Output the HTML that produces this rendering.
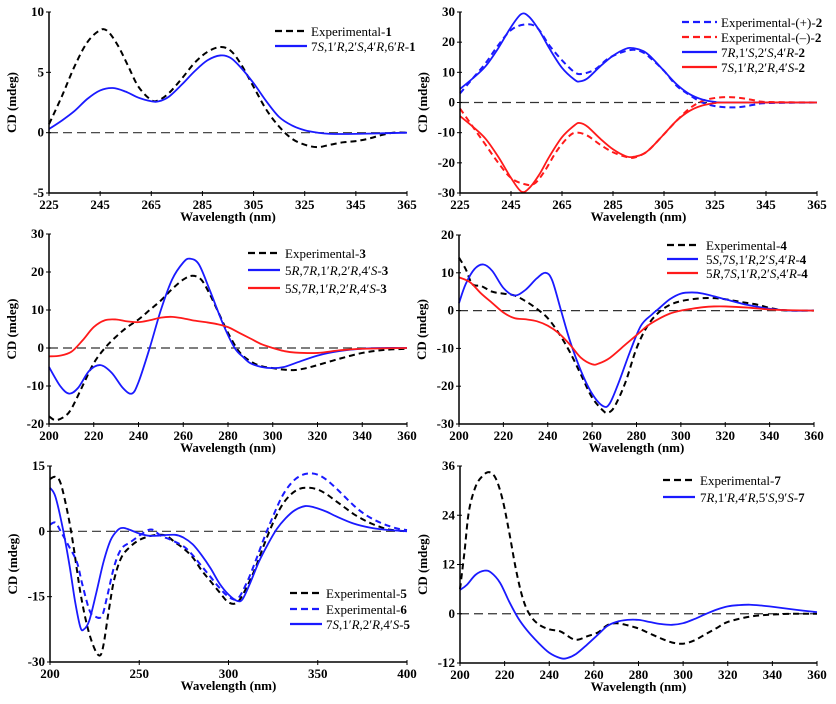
<!DOCTYPE html>
<html><head><meta charset="utf-8">
<style>
html,body{margin:0;padding:0;background:#fff;}
svg{display:block;}
text{font-family:"Liberation Serif","DejaVu Serif",serif;fill:#000;}
.tick{font-size:13px;font-weight:bold;}
.axt{font-size:13px;font-weight:bold;}
.leg{font-size:13px;}
</style></head>
<body>
<svg id="fig" width="836" height="704" viewBox="0 0 836 704" xmlns="http://www.w3.org/2000/svg"></svg>
<script>
// ---------- Panel 1 ----------
const p1_exp_wl=[225,230,235,240,245,248,252,256,260,265,268,272,277,282,287,292,296,300,305,310,315,320,325,330,335,340,345,350,355,360,365];
const p1_exp_cd=[0.7,3,5.5,7.5,8.5,8.4,7.2,5.5,3.8,2.7,2.7,3.3,4.5,5.8,6.7,7.1,6.8,5.7,3.8,1.9,0.5,-0.5,-1.0,-1.2,-1.0,-0.8,-0.7,-0.5,-0.2,0,0];
const p1_calc_wl=[225,230,235,240,245,250,255,260,265,268,272,277,282,287,292,296,300,305,310,315,320,325,330,335,345,365];
const p1_calc_cd=[0.3,1.0,1.8,2.8,3.5,3.7,3.4,2.9,2.6,2.6,3.0,4.0,5.1,6.0,6.4,6.2,5.4,4.1,2.6,1.3,0.6,0.2,0,-0.1,-0.1,0];
const p1_xticks=[225,245,265,285,305,325,345,365];
const p1_yticks=[-5,0,5,10];
// ---------- Panel 2 ----------
const p2_bs_wl=[225,230,235,240,245,249,252,256,260,265,270,272,275,280,285,290,293,297,300,305,310,315,320,325,330,365];
const p2_bs_cd=[4.5,8,12,18,25,29.3,28.5,24,18,11.5,7.5,7,8,12,15.5,17.8,18,17,15,10.5,6,2.8,1,0.2,0,0];
const p2_bd_wl=[225,230,235,240,245,250,255,260,265,270,273,278,283,288,293,297,300,305,310,315,320,325,330,335,340,345,365];
const p2_bd_cd=[3,8,13,19,24,25.8,25,19,14,10,9.5,11,14.5,16.5,17.5,16.5,14.5,10.5,5.5,2.5,0,-1.2,-1.6,-1.5,-0.8,-0.2,0];
const p2_rs_wl=[225,230,235,240,245,249,252,256,260,265,270,272,275,280,285,290,293,297,300,305,310,315,320,325,330,365];
const p2_rs_cd=[-4.5,-8,-12,-18,-25,-29.5,-28.5,-24,-18,-11.5,-7.5,-6.8,-8,-12,-15.5,-17.8,-18,-17,-15,-10.5,-6,-2.8,-1,-0.2,0,0];
const p2_rd_wl=[225,230,235,240,245,250,254,258,263,268,271,275,280,285,290,293,297,300,305,310,315,320,325,330,335,340,345,365];
const p2_rd_cd=[-2,-8,-14,-20,-25,-27,-27,-23,-16,-11,-10,-11,-14,-16.5,-18,-18.3,-17,-15,-10.5,-6,-2,0.5,1.5,1.8,1.5,0.8,0.2,0];
const p2_xticks=[225,245,265,285,305,325,345,365];
const p2_yticks=[-30,-20,-10,0,10,20,30];
// ---------- Panel 3 ----------
const p3_exp_wl=[200,203,207,210,215,220,225,230,235,240,245,250,255,260,264,268,272,276,280,285,290,295,300,305,310,315,320,330,340,350,360];
const p3_exp_cd=[-18,-19,-18,-16,-10,-4,0,3,5.5,7.5,10,12.5,15.5,18,19,18,14,9,4,-1,-3.5,-4.8,-5.3,-5.7,-5.8,-5.3,-4.5,-2.8,-1.3,-0.5,-0.2];
const p3_b_wl=[200,205,209,213,218,223,228,233,237,240,245,250,255,260,263,267,272,278,283,287,290,295,300,305,310,320,330,340,350,360];
const p3_b_cd=[-5,-10,-12,-10.5,-6,-4.5,-6.5,-10.5,-12,-9,0,10,18,22.5,23.5,22,15,6,0,-2.5,-4,-5,-5.3,-5,-4,-2,-0.8,-0.2,0,0];
const p3_r_wl=[200,205,210,215,220,225,230,235,240,245,250,255,260,265,270,275,280,285,290,295,300,305,310,320,330,340,360];
const p3_r_cd=[-2.2,-2,-1,2,5.5,7.3,7.5,7,6.8,7.3,8,8.2,7.8,7.2,6.8,6.3,5.5,4,2.5,1,0,-0.8,-1.2,-1.3,-0.6,-0.2,0];
const p3_xticks=[200,220,240,260,280,300,320,340,360];
const p3_yticks=[-20,-10,0,10,20,30];
// ---------- Panel 4 ----------
const p4_exp_wl=[200,203,206,210,215,220,225,230,235,240,245,250,255,260,265,267,270,275,280,285,290,295,300,305,310,315,320,325,330,335,340,345,350,360];
const p4_exp_cd=[14,11,7,6.5,5,4.5,4,2.5,0.5,-2,-6,-11,-17,-23,-26.5,-27,-25.5,-19,-10,-4,-0.5,1.5,2.5,3,3.3,3.3,3,2.5,2,1.5,0.7,0.2,0,0];
const p4_b_wl=[200,203,207,211,215,220,225,230,235,239,242,246,250,255,260,265,268,272,277,282,287,290,295,300,305,310,320,330,340,350,360];
const p4_b_cd=[2,7,11,12.2,10.5,6,4,5.5,8.5,10,8,0,-8,-16,-22,-25.3,-24.5,-19,-11,-4,-1,0.5,3,4.5,4.8,4.5,3,1.5,0.5,0,0];
const p4_r_wl=[200,205,210,215,220,225,230,235,240,245,250,255,260,263,268,275,280,285,290,295,300,305,310,315,320,330,340,350,360];
const p4_r_cd=[8.8,7.5,4.5,2,-0.5,-2,-2.3,-2.8,-4,-6,-9,-12.5,-14.2,-14,-12.5,-9,-6.5,-4,-2.2,-0.8,0,0.5,0.9,1.1,1.1,0.8,0.3,0.1,0];
const p4_xticks=[200,220,240,260,280,300,320,340,360];
const p4_yticks=[-30,-20,-10,0,10,20];
// ---------- Panel 5 ----------
const p5_e5_wl=[200,203,206,210,213,217,221,225,228,230,233,236,240,245,250,255,260,265,270,275,280,285,290,295,300,305,310,315,320,325,330,335,340,345,350,355,360,365,370,375,380,385,390,400];
const p5_e5_cd=[12,12.5,11,4,-3,-14,-22,-27,-28.5,-26,-18,-11,-6,-3.5,-2,-1.2,-0.8,-1,-2.5,-4,-6,-9,-11.5,-14,-16.3,-16.3,-13,-8.5,-3,2,6,8.5,9.8,10,9.6,8.5,7,5.5,4,2.8,1.8,1,0.4,0];
const p5_e6_wl=[200,203,206,210,215,218,222,225,229,232,236,240,245,250,255,258,262,268,275,280,285,290,295,300,305,310,315,320,325,330,335,340,345,350,355,360,365,370,375,380,385,390,395,400];
const p5_e6_cd=[1.5,2,0,-3,-7,-12,-18,-19.5,-19.5,-15,-8,-4,-2.5,-1,0.3,0.3,-1,-2,-3.5,-5.5,-8,-10.5,-13,-15,-15.5,-12,-7,-1.5,3.5,8,11,12.7,13.3,13,11.8,10,8,6,4.3,3,2,1.2,0.6,0.3];
const p5_c_wl=[200,203,207,211,214,217,219,222,226,230,234,238,241,245,250,255,260,270,275,280,285,290,295,300,305,308,312,317,322,327,332,337,343,348,355,360,370,380,390,400];
const p5_c_cd=[10,8,1,-8,-16,-22,-22.5,-20.5,-14,-7,-2,0.3,0.8,0.3,-0.5,-1,-1,-0.8,-1.5,-3,-5.5,-8.5,-12,-14.5,-16,-15.5,-12,-7,-3,0.5,3,4.8,5.8,5.5,4.5,3.5,1.8,0.8,0.3,0];
const p5_xticks=[200,250,300,350,400];
const p5_yticks=[-30,-15,0,15];
// ---------- Panel 6 ----------
const p6_exp_wl=[200,202,204,207,210,213,216,219,222,225,228,231,235,240,245,250,253,257,262,266,270,275,280,285,290,295,300,305,310,315,320,330,340,350,360];
const p6_exp_cd=[6,15,25,31,33.5,34.5,33,28,20,11,4,0,-2.5,-3.8,-4.3,-6,-6.3,-5.5,-4.5,-2.8,-2.3,-2.8,-3.6,-4.8,-6,-7,-7.3,-6.5,-5,-3.5,-2,-0.7,-0.2,0,0];
const p6_c_wl=[200,203,207,211,214,218,222,226,230,235,240,245,248,252,257,262,266,270,275,280,285,290,295,300,305,310,315,320,325,330,335,340,350,360];
const p6_c_cd=[5.8,7,9.5,10.5,10,7.5,3,-1,-4,-7,-9.5,-10.8,-10.8,-9.8,-7.5,-5,-3,-2,-1.5,-1.5,-2,-2.5,-2.7,-2.3,-1.3,-0.1,1,1.8,2.1,2.2,2,1.7,1,0.4];
const p6_xticks=[200,220,240,260,280,300,320,340,360];
const p6_yticks=[-12,0,12,24,36];

const NS="http://www.w3.org/2000/svg";
const fig=document.getElementById('fig');
function mk(tag,attrs,parent){const e=document.createElementNS(NS,tag);for(const k in attrs)e.setAttribute(k,attrs[k]);(parent||fig).appendChild(e);return e;}
function smooth(pts){
  let d='M'+pts[0][0].toFixed(2)+','+pts[0][1].toFixed(2);
  for(let i=0;i<pts.length-1;i++){
    const p0=pts[i-1]||pts[i],p1=pts[i],p2=pts[i+1],p3=pts[i+2]||p2;
    const c1=[p1[0]+(p2[0]-p0[0])/6,p1[1]+(p2[1]-p0[1])/6];
    const c2=[p2[0]-(p3[0]-p1[0])/6,p2[1]-(p3[1]-p1[1])/6];
    d+='C'+c1[0].toFixed(2)+','+c1[1].toFixed(2)+' '+c2[0].toFixed(2)+','+c2[1].toFixed(2)+' '+p2[0].toFixed(2)+','+p2[1].toFixed(2);
  }
  return d;
}
function panel(cfg){
  const g=mk('g',{});
  
  
  const sx=v=>cfg.L+(v-cfg.xmin)/(cfg.xmax-cfg.xmin)*(cfg.R-cfg.L);
  const sy=v=>cfg.B-(v-cfg.ymin)/(cfg.ymax-cfg.ymin)*(cfg.B-cfg.T);
  const z=mk('line',{x1:cfg.L,x2:cfg.R,y1:sy(0),y2:sy(0),stroke:'#333','stroke-width':1.2,'stroke-dasharray':'9,5'},g);
  
  
  cfg.series.forEach(s=>{
    const pts=s.wl.map((w,i)=>[sx(w),sy(s.cd[i])]);
    const p=mk('path',{d:smooth(pts),fill:'none',stroke:s.color,'stroke-width':s.dash?2:1.8,'stroke-dasharray':s.dash?'6,4':'none'},g);
    
    
  });
  const ax=mk('path',{d:`M${cfg.L},${cfg.T}V${cfg.B}H${cfg.R}`,fill:'none',stroke:'#000','stroke-width':1.5},g);
  
  
  cfg.xt.forEach(v=>{
    mk('line',{x1:sx(v),x2:sx(v),y1:cfg.B-2,y2:cfg.B+3,stroke:'#000','stroke-width':1},g);
    const t=mk('text',{x:sx(v),y:cfg.B+16,'text-anchor':'middle',class:'tick'},g);
    t.textContent=v;
    
    
  });
  cfg.yt.forEach(v=>{
    mk('line',{x1:cfg.L-3,x2:cfg.L+2,y1:sy(v),y2:sy(v),stroke:'#000','stroke-width':1},g);
    const t=mk('text',{x:cfg.L-5,y:sy(v)+4,'text-anchor':'end',class:'tick'},g);
    t.textContent=v;
    
    
  });
  const xl=mk('text',{x:(cfg.L+cfg.R)/2,y:cfg.B+28,'text-anchor':'middle',class:'axt'},g);
  xl.textContent='Wavelength (nm)';
  
  
  const yx=cfg.L-33, yy=(cfg.T+cfg.B)/2;
  const yl=mk('text',{x:yx,y:yy,'text-anchor':'middle',class:'axt',transform:`rotate(-90 ${yx} ${yy})`},g);
  yl.textContent='CD (mdeg)';
  
  
  cfg.leg.rows.forEach((r,i)=>{
    const y=cfg.leg.y[i];
    const s=cfg.series[r.si];
    mk('line',{x1:cfg.leg.x1,x2:cfg.leg.x2,y1:y,y2:y,stroke:s.color,'stroke-width':2.2,'stroke-dasharray':s.dash?'7,4':'none'},g);
    const t=mk('text',{x:cfg.leg.tx,y:y+5,class:'leg'},g);
    t.innerHTML=r.html;
    
    
  });
}
const B='#1a1aff',K='#000',RD='#ff1a1a';
const it=s=>`<tspan font-style="italic">${s}</tspan>`;
const bd=s=>`<tspan font-weight="bold">${s}</tspan>`;
panel({name:'panel-compound-1',L:49,R:407,T:12,B:193,xmin:225,xmax:365,ymin:-5,ymax:10,xt:p1_xticks,yt:p1_yticks,
 series:[{id:'exp-1-line',wl:p1_exp_wl,cd:p1_exp_cd,color:K,dash:1},{id:'calc-1-line',wl:p1_calc_wl,cd:p1_calc_cd,color:B}],
 leg:{x1:275,x2:307,tx:311,y:[31,46],rows:[{si:0,html:'Experimental-'+bd('1')},{si:1,html:`7${it('S')},1′${it('R')},2′${it('S')},4′${it('R')},6′${it('R')}-`+bd('1')}]}});
panel({name:'panel-compound-2',L:460,R:817,T:12,B:193,xmin:225,xmax:365,ymin:-30,ymax:30,xt:p2_xticks,yt:p2_yticks,
 series:[{id:'exp-plus-2-line',wl:p2_bd_wl,cd:p2_bd_cd,color:B,dash:1},{id:'exp-minus-2-line',wl:p2_rd_wl,cd:p2_rd_cd,color:RD,dash:1},
 {id:'calc-7R-2-line',wl:p2_bs_wl,cd:p2_bs_cd,color:B},{id:'calc-7S-2-line',wl:p2_rs_wl,cd:p2_rs_cd,color:RD}],
 leg:{x1:682,x2:717,tx:721,y:[22,37,52,67],rows:[{si:0,html:'Experimental-(+)-'+bd('2')},{si:1,html:'Experimental-(–)-'+bd('2')},
 {si:2,html:`7${it('R')},1′${it('S')},2′${it('S')},4′${it('R')}-`+bd('2')},{si:3,html:`7${it('S')},1′${it('R')},2′${it('R')},4′${it('S')}-`+bd('2')}]}});
panel({name:'panel-compound-3',L:49,R:407,T:234,B:424,xmin:200,xmax:360,ymin:-20,ymax:30,xt:p3_xticks,yt:p3_yticks,
 series:[{id:'exp-3-line',wl:p3_exp_wl,cd:p3_exp_cd,color:K,dash:1},{id:'calc-5R-3-line',wl:p3_b_wl,cd:p3_b_cd,color:B},{id:'calc-5S-3-line',wl:p3_r_wl,cd:p3_r_cd,color:RD}],
 leg:{x1:248,x2:280,tx:285,y:[253,270,288],rows:[{si:0,html:'Experimental-'+bd('3')},{si:1,html:`5${it('R')},7${it('R')},1′${it('R')},2′${it('R')},4′${it('S')}-`+bd('3')},{si:2,html:`5${it('S')},7${it('R')},1′${it('R')},2′${it('R')},4′${it('S')}-`+bd('3')}]}});
panel({name:'panel-compound-4',L:459,R:814,T:235,B:424,xmin:200,xmax:360,ymin:-30,ymax:20,xt:p4_xticks,yt:p4_yticks,
 series:[{id:'exp-4-line',wl:p4_exp_wl,cd:p4_exp_cd,color:K,dash:1},{id:'calc-5S-4-line',wl:p4_b_wl,cd:p4_b_cd,color:B},{id:'calc-5R-4-line',wl:p4_r_wl,cd:p4_r_cd,color:RD}],
 leg:{x1:667,x2:698,tx:706,y:[245,259,273],rows:[{si:0,html:'Experimental-'+bd('4')},{si:1,html:`5${it('S')},7${it('S')},1′${it('R')},2′${it('S')},4′${it('R')}-`+bd('4')},{si:2,html:`5${it('R')},7${it('S')},1′${it('R')},2′${it('S')},4′${it('R')}-`+bd('4')}]}});
panel({name:'panel-compound-5-6',L:50,R:407,T:466,B:662,xmin:200,xmax:400,ymin:-30,ymax:15,xt:p5_xticks,yt:p5_yticks,
 series:[{id:'exp-5-line',wl:p5_e5_wl,cd:p5_e5_cd,color:K,dash:1},{id:'exp-6-line',wl:p5_e6_wl,cd:p5_e6_cd,color:B,dash:1},{id:'calc-5-line',wl:p5_c_wl,cd:p5_c_cd,color:B}],
 leg:{x1:290,x2:322,tx:326,y:[593,609,624],rows:[{si:0,html:'Experimental-'+bd('5')},{si:1,html:'Experimental-'+bd('6')},{si:2,html:`7${it('S')},1′${it('R')},2′${it('R')},4′${it('S')}-`+bd('5')}]}});
panel({name:'panel-compound-7',L:460,R:817,T:466,B:663,xmin:200,xmax:360,ymin:-12,ymax:36,xt:p6_xticks,yt:p6_yticks,
 series:[{id:'exp-7-line',wl:p6_exp_wl,cd:p6_exp_cd,color:K,dash:1},{id:'calc-7-line',wl:p6_c_wl,cd:p6_c_cd,color:B}],
 leg:{x1:663,x2:695,tx:700,y:[480,497],rows:[{si:0,html:'Experimental-'+bd('7')},{si:1,html:`7${it('R')},1′${it('R')},4′${it('R')},5′${it('S')},9′${it('S')}-`+bd('7')}]}});
</script>
</body></html>
